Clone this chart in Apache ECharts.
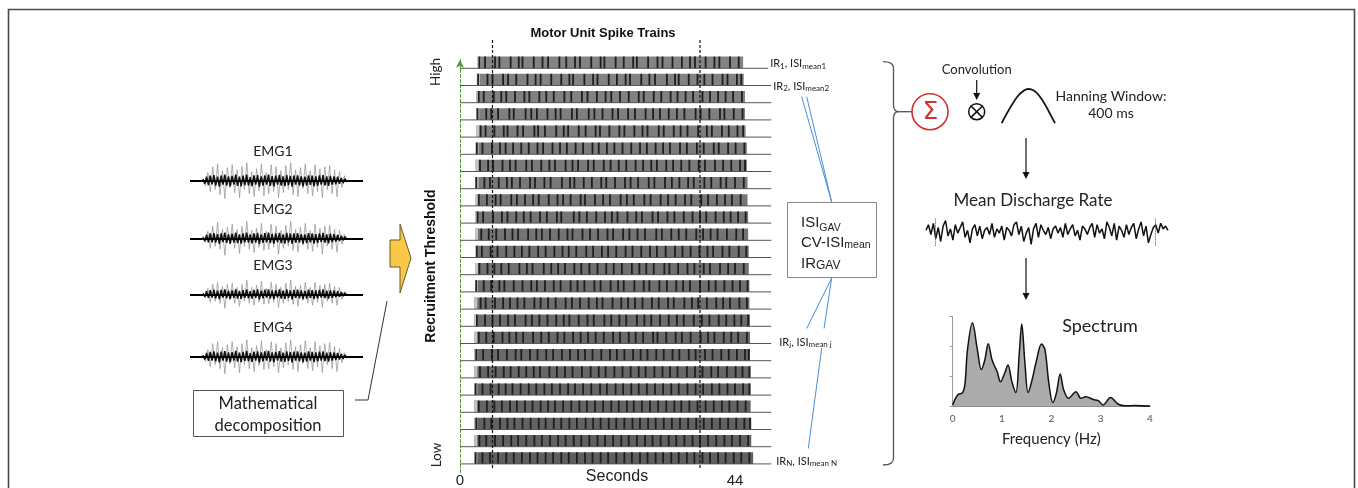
<!DOCTYPE html>
<html><head><meta charset="utf-8">
<script src="https://cdn.jsdelivr.net/npm/echarts@6.0.0/dist/echarts.min.js"></script>
<style>html,body{margin:0;padding:0;background:#fff}#c{width:1358px;height:488px}</style>
</head><body><div id="c"></div>
<script>
// ---------- DATA ----------
const emgNames = ['EMG1', 'EMG2', 'EMG3', 'EMG4'];
const emg1Spikes = [0.1,-0.25,0.4,-0.55,0.7,-0.45,0.85,-0.7,0.5,-0.9,0.65,-0.35,0.8,-0.6,0.55,-0.85,0.7,-0.45,0.9,-0.65,0.45,-0.8,0.6,-0.5,0.85,-0.75,0.4,-0.65,0.8,-0.55,0.7,-0.85,0.5,-0.6,0.75,-0.45,0.9,-0.7,0.55,-0.8,0.65,-0.4,0.85,-0.65,0.5,-0.75,0.8,-0.55,0.6,-0.85,0.7,-0.45,0.75,-0.65,0.55,-0.8,0.45,-0.35,0.25,-0.1];
const emg2Spikes = [0.1,-0.2,0.35,-0.5,0.6,-0.4,0.8,-0.55,0.45,-0.85,0.55,-0.3,0.7,-0.5,0.45,-0.75,0.6,-0.4,0.85,-0.55,0.4,-0.7,0.5,-0.45,0.75,-0.6,0.35,-0.55,0.7,-0.45,0.6,-0.8,0.4,-0.5,0.65,-0.4,0.85,-0.6,0.45,-0.7,0.55,-0.35,0.75,-0.55,0.4,-0.65,0.7,-0.45,0.5,-0.8,0.6,-0.4,0.65,-0.55,0.45,-0.7,0.4,-0.3,0.2,-0.1];
const emg3Spikes = [0.08,-0.2,0.3,-0.4,0.5,-0.35,0.6,-0.45,0.4,-0.7,0.5,-0.3,0.55,-0.45,0.35,-0.6,0.5,-0.35,0.7,-0.45,0.35,-0.55,0.45,-0.4,0.65,-0.5,0.3,-0.45,0.6,-0.4,0.5,-0.65,0.35,-0.45,0.55,-0.35,0.7,-0.5,0.4,-0.6,0.45,-0.3,0.6,-0.45,0.35,-0.55,0.6,-0.4,0.45,-0.65,0.5,-0.35,0.55,-0.45,0.4,-0.55,0.35,-0.25,0.15,-0.08];
const emg4Spikes = [0.1,-0.25,0.35,-0.5,0.65,-0.4,0.75,-0.6,0.45,-0.85,0.6,-0.35,0.75,-0.55,0.5,-0.8,0.65,-0.4,0.85,-0.6,0.45,-0.75,0.55,-0.45,0.8,-0.65,0.35,-0.6,0.75,-0.5,0.65,-0.8,0.45,-0.55,0.7,-0.4,0.85,-0.65,0.5,-0.75,0.6,-0.35,0.8,-0.6,0.45,-0.7,0.75,-0.5,0.55,-0.8,0.65,-0.4,0.7,-0.6,0.5,-0.75,0.4,-0.3,0.2,-0.1];
const emg1Core = [0.08,-0.15,0.2,-0.22,0.25,-0.18,0.28,-0.24,0.2,-0.3,0.26,-0.2,0.3,-0.25,0.22,-0.28,0.24,-0.2,0.3,-0.26,0.2,-0.28,0.25,-0.22,0.3,-0.24,0.18,-0.27,0.26,-0.2,0.28,-0.3,0.22,-0.24,0.27,-0.19,0.3,-0.26,0.23,-0.28,0.25,-0.2,0.29,-0.25,0.21,-0.27,0.28,-0.22,0.24,-0.3,0.26,-0.2,0.27,-0.24,0.22,-0.28,0.2,-0.25,0.27,-0.21,0.25,-0.28,0.22,-0.24,0.26,-0.2,0.28,-0.23,0.21,-0.26,0.24,-0.2,0.22,-0.18,0.2,-0.15,0.14,-0.12,0.1,-0.06];
const emg2Core = [0.06,-0.14,0.18,-0.2,0.24,-0.2,0.26,-0.22,0.21,-0.28,0.25,-0.19,0.28,-0.23,0.2,-0.26,0.23,-0.21,0.28,-0.24,0.19,-0.27,0.24,-0.2,0.28,-0.22,0.19,-0.25,0.25,-0.21,0.27,-0.28,0.2,-0.23,0.26,-0.2,0.28,-0.24,0.22,-0.27,0.24,-0.19,0.27,-0.24,0.2,-0.26,0.27,-0.2,0.23,-0.28,0.25,-0.21,0.26,-0.22,0.21,-0.27,0.2,-0.24,0.26,-0.2,0.24,-0.27,0.21,-0.23,0.25,-0.19,0.27,-0.22,0.2,-0.25,0.23,-0.19,0.21,-0.17,0.18,-0.14,0.13,-0.1,0.08,-0.05];
const emg3Core = [0.05,-0.12,0.16,-0.18,0.21,-0.17,0.23,-0.2,0.18,-0.24,0.22,-0.17,0.24,-0.2,0.18,-0.23,0.2,-0.18,0.25,-0.21,0.17,-0.23,0.21,-0.18,0.24,-0.2,0.16,-0.22,0.22,-0.18,0.24,-0.25,0.18,-0.2,0.23,-0.17,0.25,-0.21,0.19,-0.24,0.21,-0.17,0.24,-0.21,0.18,-0.23,0.24,-0.18,0.2,-0.25,0.22,-0.18,0.23,-0.2,0.19,-0.24,0.17,-0.21,0.23,-0.18,0.21,-0.24,0.19,-0.2,0.22,-0.17,0.24,-0.19,0.18,-0.22,0.2,-0.17,0.19,-0.15,0.16,-0.12,0.11,-0.09,0.07,-0.04];
const emg4Core = [0.07,-0.14,0.19,-0.21,0.24,-0.19,0.27,-0.23,0.2,-0.28,0.25,-0.2,0.28,-0.24,0.21,-0.27,0.23,-0.2,0.29,-0.25,0.2,-0.27,0.24,-0.21,0.29,-0.23,0.18,-0.26,0.25,-0.2,0.27,-0.29,0.21,-0.23,0.26,-0.19,0.29,-0.25,0.22,-0.27,0.24,-0.2,0.28,-0.24,0.2,-0.26,0.27,-0.21,0.23,-0.29,0.25,-0.2,0.26,-0.23,0.21,-0.27,0.2,-0.24,0.26,-0.2,0.24,-0.27,0.21,-0.23,0.25,-0.2,0.27,-0.22,0.2,-0.25,0.23,-0.19,0.21,-0.17,0.19,-0.14,0.13,-0.11,0.09,-0.05];

// spike trains: one row per motor unit, top = highest threshold
const rowStart = [2.8,2.7,2.6,2.6,2.6,2.5,2.5,2.5,2.5,2.4,2.4,2.4,2.4,2.4,2.3,2.3,2.3,2.3,2.3,2.3,2.3,2.3,2.3,2.3];
const rowEnd   = [45.3,45.4,45.6,45.6,45.7,45.9,45.9,46.0,46.0,46.1,46.1,46.2,46.2,46.3,46.3,46.4,46.4,46.4,46.5,46.5,46.5,46.6,46.6,46.9];
const lineEnd  = [49.3,49.8,49.8,49.8,49.8,49.8,49.8,49.8,49.8,49.8,49.8,49.8,49.8,49.8,49.8,49.8,49.8,49.8,49.8,49.8,49.8,49.8,49.8,49.8];
const spikeTimes = [
 [3.1,4.0,5.6,6.3,8.1,9.4,10.0,11.8,13.2,14.1,15.9,17.0,18.4,19.2,21.0,22.5,23.1,24.9,26.2,27.7,28.3,30.1,31.6,32.4,34.0,35.5,36.8,37.6,39.3,40.7,41.5,43.2,44.6],
 [2.9,4.4,5.2,6.9,7.7,9.0,10.8,12.1,12.9,14.6,16.2,17.5,18.1,19.9,21.3,22.0,23.8,25.1,26.5,27.2,29.0,30.3,31.2,33.1,34.4,35.0,36.6,38.0,39.1,40.4,42.0,42.8,44.3,45.0],
 [3.0,3.8,5.4,6.6,7.4,8.8,10.3,11.1,12.7,13.8,15.0,16.7,17.8,19.5,20.4,21.9,23.3,24.2,25.6,27.0,28.6,29.4,31.0,32.2,33.7,34.8,36.1,37.3,38.8,40.0,41.3,42.5,43.7,45.1],
 [2.8,4.2,5.0,6.1,7.9,8.6,10.5,11.4,12.3,14.0,15.3,16.1,17.9,18.7,20.6,21.5,22.8,24.4,25.3,26.9,28.0,29.7,30.9,32.0,33.4,34.7,35.9,37.7,38.5,39.9,41.6,42.3,43.8,45.2],
 [3.3,4.1,5.5,7.0,7.6,9.2,10.1,11.9,12.5,13.6,15.4,16.6,17.3,19.0,20.1,21.7,22.4,23.9,25.5,26.3,27.9,29.2,30.0,31.8,32.6,34.2,35.3,36.4,38.1,39.5,40.3,41.9,43.0,44.4,45.3],
 [2.7,3.6,5.1,6.4,7.3,8.5,9.8,11.0,12.4,13.3,14.8,16.0,17.1,18.5,19.7,21.2,22.2,23.5,24.7,26.0,27.4,28.8,29.9,31.3,32.5,33.6,35.2,36.3,37.9,39.0,40.6,41.4,42.9,44.1,45.5],
 [3.2,4.5,5.3,6.8,8.0,8.9,10.6,11.5,13.0,14.3,15.2,16.9,18.0,18.9,20.5,21.4,23.0,24.1,25.4,26.6,28.1,29.3,30.6,31.5,33.0,34.1,35.4,36.7,38.2,39.2,40.8,42.1,43.4,44.8,45.6],
 [2.6,3.9,4.8,6.2,7.5,8.3,9.6,11.2,12.0,13.5,14.5,16.3,17.6,18.3,19.8,21.1,22.6,23.4,24.8,26.4,27.3,28.5,30.2,31.1,32.8,33.9,35.1,36.5,37.4,39.1,40.2,41.7,42.6,44.0,45.4],
 [3.0,4.3,5.7,6.5,8.2,9.1,10.4,11.7,12.6,14.2,15.6,16.5,17.7,19.3,20.0,21.6,22.9,24.0,25.7,26.7,27.8,29.5,30.5,32.1,33.3,34.5,36.0,37.0,38.6,39.7,41.1,42.4,43.5,44.9],
 [2.8,3.7,5.3,6.7,7.6,9.0,10.2,11.3,12.8,13.9,15.5,16.2,18.2,19.1,20.3,21.8,23.2,24.3,25.2,26.8,28.2,29.1,30.8,31.7,33.2,34.3,35.8,37.2,38.4,39.4,40.9,42.2,43.3,44.5,45.7],
 [3.4,4.6,5.8,7.2,8.4,9.3,10.9,12.2,13.1,14.4,15.8,17.2,18.0,19.6,20.8,22.1,23.6,24.5,26.1,27.1,28.4,29.6,31.4,32.3,33.8,35.0,36.2,37.8,38.9,40.1,41.2,42.7,44.2,45.3],
 [2.7,3.5,4.9,6.0,7.4,8.7,9.9,11.1,12.5,13.7,15.1,16.4,17.4,18.6,20.2,21.3,22.7,23.7,25.0,26.5,27.6,29.0,30.4,31.5,32.9,34.4,35.6,36.9,38.3,39.6,40.5,42.0,43.1,44.6,45.8],
 [3.1,4.4,5.5,6.6,7.8,9.5,10.7,11.6,13.4,14.6,15.7,16.8,18.3,19.4,20.7,22.0,23.4,24.6,25.9,27.5,28.7,29.8,31.0,32.7,33.5,34.9,36.4,37.5,39.0,40.0,41.6,42.9,44.0,45.4],
 [2.6,3.8,5.0,6.3,7.1,8.6,10.0,11.4,12.3,13.6,15.0,16.1,17.7,18.8,19.9,21.5,22.5,24.1,25.3,26.2,27.9,29.4,30.3,31.9,33.1,34.6,35.7,36.8,38.4,39.8,40.9,42.3,43.6,44.8,46.0],
 [3.3,4.1,5.6,6.9,8.0,9.2,10.3,11.9,12.9,14.1,15.3,16.9,17.9,19.2,20.6,21.9,22.8,24.4,25.8,26.9,28.0,29.2,30.7,31.8,33.3,34.2,35.9,37.1,38.1,39.5,41.0,42.1,43.2,44.7,45.9],
 [2.7,4.0,5.2,6.4,7.7,8.8,10.5,11.5,12.7,14.0,15.4,16.6,17.5,19.0,20.4,21.4,23.1,24.2,25.5,26.6,28.3,29.5,30.6,32.0,33.4,34.7,35.8,37.4,38.7,39.9,41.4,42.6,43.9,45.0,46.1],
 [3.0,4.2,5.4,6.8,7.9,9.0,10.1,11.7,13.0,14.2,15.6,16.7,18.1,19.3,20.5,21.7,23.0,24.5,25.6,27.0,28.1,29.3,30.9,31.6,33.0,34.5,35.5,36.9,38.5,39.7,40.7,42.2,43.4,44.5,45.9],
 [2.6,3.7,5.1,6.1,7.5,8.9,9.8,11.2,12.4,13.8,14.9,16.3,17.6,18.9,20.0,21.2,22.6,24.0,25.1,26.3,27.7,28.9,30.0,31.4,32.6,34.0,35.1,36.6,37.7,39.2,40.4,41.8,43.0,44.3,45.6,46.2],
 [3.2,4.5,5.7,7.0,8.1,9.4,10.6,11.8,12.8,14.3,15.5,16.8,18.0,19.5,20.9,22.2,23.3,24.7,26.0,27.3,28.6,29.7,31.1,32.4,33.6,34.8,36.3,37.6,38.8,40.2,41.3,42.7,44.1,45.2,46.3],
 [2.5,3.6,4.9,6.2,7.3,8.4,9.7,11.0,12.2,13.5,14.7,16.0,17.3,18.4,19.7,21.0,22.4,23.5,24.9,26.1,27.4,28.6,29.9,31.2,32.5,33.8,35.0,36.4,37.7,38.9,40.3,41.5,42.8,44.0,45.3,46.3],
 [3.0,4.3,5.5,6.7,8.0,9.1,10.4,11.6,12.9,14.1,15.2,16.5,17.8,19.1,20.3,21.6,22.9,24.2,25.4,26.7,27.8,29.1,30.4,31.7,33.0,34.3,35.4,36.7,38.0,39.3,40.6,41.9,43.1,44.4,45.7],
 [2.6,3.9,5.0,6.4,7.6,8.7,10.0,11.3,12.6,13.7,15.0,16.2,17.5,18.7,20.1,21.3,22.5,23.8,25.0,26.3,27.6,28.8,30.1,31.3,32.6,33.9,35.2,36.5,37.8,39.0,40.3,41.6,42.9,44.2,45.5,46.4],
 [3.1,4.2,5.6,6.9,8.2,9.3,10.6,11.9,13.1,14.4,15.7,16.9,18.2,19.4,20.7,22.0,23.2,24.5,25.8,27.0,28.3,29.6,30.8,32.1,33.4,34.6,35.9,37.2,38.4,39.7,41.0,42.3,43.5,44.8,46.1],
 [2.5,3.6,4.8,6.1,7.4,8.6,9.9,11.2,12.4,13.7,14.9,16.2,17.4,18.7,20.0,21.2,22.5,23.7,25.0,26.3,27.5,28.8,30.0,31.3,32.5,33.8,35.0,36.3,37.5,38.8,40.0,41.3,42.5,43.8,45.0,46.3]
];
const windowMarks = [5.2, 38.4];           // dashed analysis window (s)
const secondsTicks = [0, 44];
const rowLabels = [
  {row: 0,  sub: '1', mean: 'mean1'},
  {row: 1,  sub: '2', mean: 'mean2'},
  {row: 16, sub: 'j', mean: 'mean j'},
  {row: 23, sub: 'N', mean: 'mean N'}
];

// mean discharge rate (arbitrary units)
const dischargeRate = [0.1,0.5,-0.2,0.6,-0.5,0.3,-0.7,0.4,0.8,-0.3,0.2,-0.6,0.5,-0.1,0.3,0.7,-0.4,0.1,-0.8,0.2,0.5,-0.3,0.4,-0.5,0.1,0.3,-0.2,0.6,-0.4,0.2,-0.1,0.4,-0.6,0.3,0.1,-0.3,0.5,0.7,-0.2,0.4,-0.7,-0.1,0.3,-0.9,0.2,0.6,-0.4,0.5,0.1,-0.2,0.3,-0.5,0.2,0.4,-0.1,0.3,-0.4,0.6,-0.2,0.2,0.5,-0.3,0.1,-0.6,0.4,0.2,-0.2,0.3,0.6,-0.4,0.5,-0.1,0.2,-0.5,0.7,0.3,-0.3,0.6,-0.6,0.4,0.1,-0.4,0.5,-0.2,0.3,0.6,-0.5,0.2,0.7,-0.3,0.4,-0.8,-0.2,0.3,0.5,-0.1,0.6,0.2,0.4,0.1];
const dischargeMarks = [3.7, 93.7];

// Hanning window shape
const hannX = [0,0.1,0.2,0.3,0.4,0.5,0.6,0.7,0.8,0.9,1];
const hannY = [0.05,0.33,0.58,0.8,0.94,1,0.96,0.82,0.6,0.33,0.05];

// spectrum
const specFreq = [0,0.1,0.2,0.25,0.3,0.4,0.5,0.58,0.65,0.72,0.8,0.9,0.97,1.05,1.12,1.2,1.28,1.35,1.4,1.46,1.53,1.6,1.7,1.8,1.87,1.95,2.03,2.1,2.18,2.25,2.35,2.5,2.6,2.7,2.85,2.95,3.05,3.2,3.35,3.5,3.7,4.0];
const specAmp  = [0.06,0.39,0.47,0.78,1.9,2.8,1.9,1.24,1.55,2.1,1.55,1.17,0.83,1.1,1.39,0.83,0.47,1.78,2.76,1.55,0.47,0.83,1.55,2.09,1.9,0.78,0.14,0.44,1.09,0.56,0.28,0.5,0.28,0.33,0.24,0.2,0.06,0.31,0.09,0.03,0.04,0.02];
const freqTicks = [0,1,2,3,4];

// ---------- CHART ----------
const SANS = 'Lato';
const ARIAL = 'Liberation Sans';
const chart = echarts.init(document.getElementById('c'));
const emgBase = [180.7, 238.3, 294.3, 356.7];
const emgSpikeSets = [emg1Spikes, emg2Spikes, emg3Spikes, emg4Spikes];
const emgCoreSets = [emg1Core, emg2Core, emg3Core, emg4Core];
const EMG_X0 = 7.5, EMG_X1 = 90.6;

const grids = [], xAxes = [], yAxes = [], series = [];
function addGrid(g) { grids.push(Object.assign({outerBoundsMode: 'none', containLabel: false}, g)); }
emgBase.forEach((b, k) => {
  addGrid({left: 190, width: 173, top: b - 20, height: 40});
  xAxes.push({gridIndex: k, type: 'value', min: 0, max: 100, show: false});
  yAxes.push({gridIndex: k, type: 'value', min: -1, max: 1, show: false});
  const sp = emgSpikeSets[k], co = emgCoreSets[k];
  series.push({type: 'line', xAxisIndex: k, yAxisIndex: k, symbol: 'none', silent: true,
    lineStyle: {color: '#8f8f8f', width: 0.7},
    data: sp.map((v, i) => [EMG_X0 + i * (EMG_X1 - EMG_X0) / (sp.length - 1), v])});
  series.push({type: 'line', xAxisIndex: k, yAxisIndex: k, symbol: 'none', silent: true,
    lineStyle: {color: '#111', width: 1.5},
    data: co.map((v, i) => [EMG_X0 + i * (EMG_X1 - EMG_X0) / (co.length - 1), v]),
    markLine: {silent: true, symbol: 'none', label: {show: false},
      lineStyle: {color: '#000', width: 2, type: 'solid'}, data: [{yAxis: 0}]}});
});

// spike train grid (index 4)
const NROW = spikeTimes.length;
const ROW_PX = 17.2;
addGrid({left: 460, width: 312.5, top: 68.3 - ROW_PX * 0.5, height: ROW_PX * NROW});
xAxes.push({gridIndex: 4, type: 'value', min: 0, max: 50,
  axisLine: {show: false}, axisTick: {show: false}, splitLine: {show: false},
  axisLabel: {customValues: secondsTicks, margin: 1, fontSize: 15, color: '#222', fontFamily: ARIAL}});
yAxes.push({gridIndex: 4, type: 'value', min: -0.5, max: NROW - 0.5, offset: 5,
  axisLine: {show: true, symbol: ['none', 'arrow'], symbolSize: [6, 8],
    lineStyle: {color: '#4f9a34', type: [3, 2], width: 1}},
  axisTick: {show: false}, axisLabel: {show: false}, splitLine: {show: false},
  name: 'Recruitment Threshold', nameLocation: 'middle', nameGap: 17,
  nameTextStyle: {fontSize: 14, fontWeight: 'bold', color: '#111', fontFamily: ARIAL}});

const labelDy = {0: -5, 1: 0, 16: -2, 23: -3};
const labelDx = {0: 2, 1: 2, 16: 8, 23: 5};
series.push({
  type: 'custom', xAxisIndex: 4, yAxisIndex: 4, silent: true, clip: false,
  data: spikeTimes.map((s, i) => [i]),
  renderItem(params, api) {
    const i = api.value(0);
    const yv = NROW - 1 - i;
    const p0 = api.coord([0, yv]);
    const pe = api.coord([lineEnd[i], yv]);
    const ps = api.coord([rowStart[i], yv]);
    const pf = api.coord([rowEnd[i], yv]);
    const h = api.size([0, 0.68])[1];
    const g = Math.round(132 - i * 1.6);
    const ch = [];
    ch.push({type: 'rect', shape: {x: ps[0], y: p0[1] - h, width: pf[0] - ps[0], height: h},
      style: {fill: `rgb(${g},${g},${g})`}});
    ch.push({type: 'rect', shape: {x: ps[0], y: p0[1] - h, width: 3, height: h},
      style: {fill: '#c4c4c4'}});
    spikeTimes[i].forEach(t => {
      const p = api.coord([t, yv]);
      ch.push({type: 'line', shape: {x1: p[0], y1: p0[1] - h, x2: p[0], y2: p0[1]},
        style: {stroke: '#1e1e1e', lineWidth: 1.8}});
    });
    ch.push({type: 'line', shape: {x1: p0[0], y1: p0[1], x2: pe[0], y2: p0[1]},
      style: {stroke: '#555', lineWidth: 1}});
    const lab = rowLabels.find(r => r.row === i);
    if (lab) {
      ch.push({type: 'text', x: pe[0] + labelDx[i], y: p0[1] + labelDy[i],
        style: {text: `{a|IR}{b|${lab.sub}}{a|, ISI}{b|${lab.mean}}`,
          verticalAlign: 'middle', align: 'left',
          rich: {a: {fontSize: 11, fontFamily: SANS, fill: '#222', lineHeight: 12, verticalAlign: 'bottom'},
                 b: {fontSize: 8, fontFamily: SANS, fill: '#222', lineHeight: 12, verticalAlign: 'bottom', padding: [0, 0, -1, 0]}}}});
    }
    return {type: 'group', children: ch};
  }
});
series.push({
  type: 'custom', xAxisIndex: 4, yAxisIndex: 4, silent: true, clip: false, z: 5,
  data: windowMarks.map(t => [t]),
  renderItem(params, api) {
    const t = api.value(0);
    const a = api.coord([t, NROW - 1 + 1.65]);
    const b = api.coord([t, -0.35]);
    return {type: 'line', shape: {x1: a[0], y1: a[1], x2: b[0], y2: b[1]},
      style: {stroke: '#111', lineWidth: 1.2, lineDash: [3, 2]}};
  }
});

// discharge rate grid (index 5)
addGrid({left: 926, width: 242, top: 217.7, height: 28});
xAxes.push({gridIndex: 5, type: 'value', min: 0, max: dischargeRate.length - 1, show: false});
yAxes.push({gridIndex: 5, type: 'value', min: -1, max: 1, show: false});
series.push({type: 'line', xAxisIndex: 5, yAxisIndex: 5, symbol: 'none', silent: true,
  lineStyle: {color: '#111', width: 1.5},
  data: dischargeRate.map((v, i) => [i, v]),
  markLine: {silent: true, symbol: 'none', label: {show: false},
    lineStyle: {color: '#555', width: 1, type: 'dotted'},
    data: dischargeMarks.map(x => ({xAxis: x}))}});

// spectrum grid (index 6)
addGrid({left: 952.7, width: 197.3, top: 316.7, height: 90});
xAxes.push({gridIndex: 6, type: 'value', min: 0, max: 4, interval: 1,
  axisLine: {lineStyle: {color: '#333', width: 1}}, axisTick: {show: false}, splitLine: {show: false},
  axisLabel: {customValues: freqTicks, fontSize: 10, color: '#555', margin: 7, fontFamily: SANS},
  name: 'Frequency (Hz)', nameLocation: 'middle', nameGap: 25,
  nameTextStyle: {fontSize: 15, color: '#222', fontFamily: SANS}});
yAxes.push({gridIndex: 6, type: 'value', min: 0, max: 3, interval: 1,
  axisLine: {show: true, lineStyle: {color: '#999', width: 1}},
  axisTick: {show: true, length: 3, lineStyle: {color: '#999'}},
  axisLabel: {show: false}, splitLine: {show: false}});
series.push({type: 'line', xAxisIndex: 6, yAxisIndex: 6, symbol: 'none', silent: true, smooth: 0.35,
  lineStyle: {color: '#111', width: 1.5}, areaStyle: {color: '#ababab', opacity: 1},
  data: specFreq.map((f, i) => [f, specAmp[i]])});

// hanning grid (index 7)
addGrid({left: 1001.7, width: 53.3, top: 89, height: 36});
xAxes.push({gridIndex: 7, type: 'value', min: 0, max: 1, show: false});
yAxes.push({gridIndex: 7, type: 'value', min: 0, max: 1, show: false});
series.push({type: 'line', xAxisIndex: 7, yAxisIndex: 7, symbol: 'none', silent: true, smooth: true,
  lineStyle: {color: '#111', width: 1.8},
  data: hannX.map((x, i) => [x, hannY[i]])});

// ---------- DECORATION ----------
function txt(t, x, y, size, opts) {
  return Object.assign({type: 'text', x, y, silent: true,
    style: Object.assign({text: t, fontSize: size, fontFamily: SANS, fill: '#222',
      align: 'center', verticalAlign: 'middle'}, (opts && opts.style) || {})},
    (opts && opts.el) || {});
}
function downArrow(x, y1, y2) {
  return [
    {type: 'line', silent: true, shape: {x1: x, y1: y1, x2: x, y2: y2 - 6}, style: {stroke: '#111', lineWidth: 1.2}},
    {type: 'polygon', silent: true, shape: {points: [[x - 3.5, y2 - 7], [x + 3.5, y2 - 7], [x, y2]]}, style: {fill: '#111'}}
  ];
}
function seg(x1, y1, x2, y2, color, w) {
  return {type: 'line', silent: true, shape: {x1, y1, x2, y2}, style: {stroke: color, lineWidth: w}};
}
function curve(x1, y1, cx, cy, x2, y2) {
  return {type: 'bezierCurve', silent: true, shape: {x1, y1, cpx1: cx, cpy1: cy, x2, y2},
    style: {stroke: '#555', lineWidth: 1.3, fill: null}};
}
const blue = '#4a8fd6';
const BX = 893.5;
const graphics = [
  {type: 'rect', silent: true, shape: {x: 8.5, y: 9.5, width: 1346, height: 520},
    style: {fill: null, stroke: '#4a4a4a', lineWidth: 1.6}, z: 100},
  ...emgNames.map((n, k) => txt(n, 273, emgBase[k] - 29, 14)),
  {type: 'rect', silent: true, shape: {x: 193.5, y: 390.5, width: 150, height: 46},
    style: {fill: '#fff', stroke: '#555', lineWidth: 1}},
  txt('Mathematical', 268, 404, 16.5),
  txt('decomposition', 268, 426, 16.5),
  {type: 'polyline', silent: true, shape: {points: [[355, 400], [368, 400], [387, 301]]},
    style: {stroke: '#333', lineWidth: 1, fill: null}},
  {type: 'polygon', silent: true,
    shape: {points: [[390, 240], [400, 240], [400, 224], [411, 258], [400, 293], [400, 267], [390, 267]]},
    style: {fill: '#f8c846', stroke: '#6b5a2a', lineWidth: 1}},
  txt('Motor Unit Spike Trains', 603, 33, 13, {style: {fontFamily: ARIAL, fontWeight: 'bold', fill: '#111'}}),
  txt('Seconds', 617, 477, 16, {style: {fontFamily: ARIAL}}),
  txt('High', 436, 72, 13.5, {el: {rotation: Math.PI / 2}}),
  txt('Low', 437, 455, 13.5, {el: {rotation: Math.PI / 2}}),
  seg(801.7, 96.7, 831.7, 202, blue, 1),
  seg(806.7, 96.7, 831.7, 202, blue, 1),
  seg(831.7, 278, 806.7, 328.5, blue, 1),
  seg(831.7, 278, 824, 328.5, blue, 1),
  seg(821.7, 348, 808.3, 448.5, blue, 1),
  {type: 'rect', silent: true, shape: {x: 787.5, y: 202.5, width: 89, height: 75},
    style: {fill: '#fff', stroke: '#888', lineWidth: 1}},
  {type: 'text', silent: true, x: 801, y: 222, style: {text: '{a|ISI}{b|GAV}', verticalAlign: 'middle',
    rich: {a: {fontSize: 15, fontFamily: ARIAL, fill: '#222', verticalAlign: 'bottom', lineHeight: 17},
           b: {fontSize: 10.5, fontFamily: ARIAL, fill: '#222', verticalAlign: 'bottom', lineHeight: 17, padding: [0, 0, -3, 0]}}}},
  {type: 'text', silent: true, x: 801, y: 242, style: {text: '{a|CV-ISI}{b|mean}', verticalAlign: 'middle',
    rich: {a: {fontSize: 15, fontFamily: ARIAL, fill: '#222', verticalAlign: 'bottom', lineHeight: 17},
           b: {fontSize: 10.5, fontFamily: ARIAL, fill: '#222', verticalAlign: 'bottom', lineHeight: 17}}}},
  {type: 'text', silent: true, x: 801, y: 263, style: {text: '{a|IR}{b|GAV}', verticalAlign: 'middle',
    rich: {a: {fontSize: 15, fontFamily: ARIAL, fill: '#222', verticalAlign: 'bottom', lineHeight: 17},
           b: {fontSize: 12, fontFamily: ARIAL, fill: '#222', verticalAlign: 'bottom', lineHeight: 17}}}},
  curve(883, 61.7, BX, 61.7, BX, 68),
  seg(BX, 68, BX, 105, '#555', 1.3),
  curve(BX, 105, BX, 111.7, 899, 111.7),
  seg(899, 111.7, 912, 111.7, '#555', 1.3),
  curve(899, 111.7, BX, 111.7, BX, 118),
  seg(BX, 118, BX, 458, '#555', 1.3),
  curve(BX, 458, BX, 465, 883, 465),
  {type: 'circle', silent: true, shape: {cx: 930, cy: 111.7, r: 18}, style: {fill: null, stroke: '#d2322d', lineWidth: 1.6}},
  txt('Σ', 930.5, 112, 25, {style: {fill: '#d2322d', fontFamily: 'DejaVu Sans'}}),
  {type: 'circle', silent: true, shape: {cx: 976.7, cy: 111.7, r: 8}, style: {fill: null, stroke: '#111', lineWidth: 1.5}},
  seg(971, 106, 982.4, 117.4, '#111', 1.5),
  seg(982.4, 106, 971, 117.4, '#111', 1.5),
  ...downArrow(976.7, 80, 100),
  txt('Convolution', 976.7, 70, 13),
  txt('Hanning Window:', 1111, 96.5, 14),
  txt('400 ms', 1111, 113.5, 14),
  ...downArrow(1026, 138, 179),
  txt('Mean Discharge Rate', 1033, 201, 17),
  ...downArrow(1026, 258, 300),
  txt('Spectrum', 1100, 326, 18)
];

chart.setOption({
  animation: false,
  backgroundColor: '#fff',
  textStyle: {fontFamily: SANS},
  grid: grids, xAxis: xAxes, yAxis: yAxes, series: series,
  graphic: {elements: graphics}
});
</script></body></html>
